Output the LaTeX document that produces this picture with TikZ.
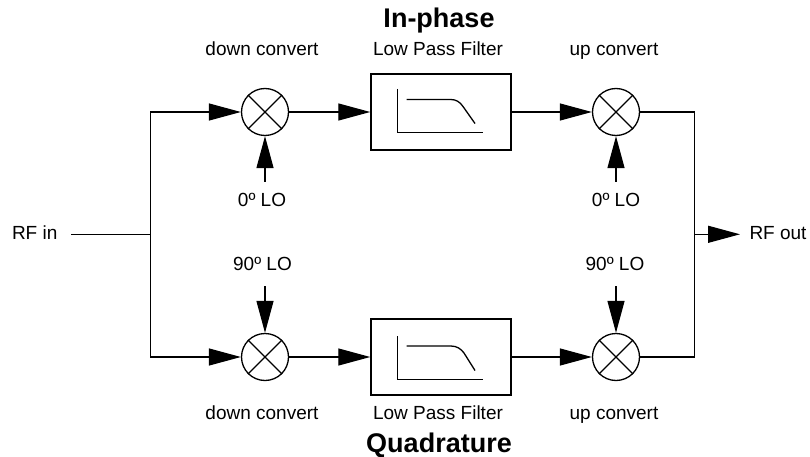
\documentclass[tikz,border=0pt]{standalone}
\usepackage{fontspec}
\setmainfont{Liberation Sans}
\usetikzlibrary{arrows.meta}
\tikzset{
  wire/.style={line width=1.3pt,draw=black},
  arr/.style={wire,-{Triangle[length=32pt,width=17pt]}},
  mixer/.style={circle,draw=black,line width=1.3pt,minimum size=47pt,inner sep=0pt},
  lpf/.style={rectangle,draw=black,line width=1.5pt,minimum width=140pt,minimum height=76pt,inner sep=0pt},
  lab/.style={font=\fontsize{19}{21}\selectfont,inner sep=0pt,anchor=base},
  ttl/.style={font=\fontsize{27}{29}\selectfont\bfseries,inner sep=0pt,anchor=base}
}
\newcommand{\crossin}[1]{\draw[wire] (#1.45)--(#1.225) (#1.135)--(#1.315);}
\begin{document}
\begin{tikzpicture}[x=1pt,y=-1pt]
\useasboundingbox (0,0) rectangle (810,457);
% nodes
\node[mixer] (m1) at (265,112) {};
\node[mixer] (m2) at (616,112) {};
\node[mixer] (m3) at (265,357) {};
\node[mixer] (m4) at (616,357) {};
\node[lpf] (f1) at (441,112) {};
\node[lpf] (f2) at (441,357) {};
\crossin{m1}\crossin{m2}\crossin{m3}\crossin{m4}
% filter glyphs
\draw[wire] (397.5,89)--(397.5,132.5)--(483,132.5);
\draw[wire] (406.5,99.5)--(451,99.5) .. controls (456,99.5) and (460,102) .. (463,106.5) -- (475,123.5);
\draw[wire] (397.5,336)--(397.5,379.5)--(483,379.5);
\draw[wire] (406.5,346)--(451,346) .. controls (457,346) and (461,349) .. (464,353) -- (475,370.5);
% texts
\node[ttl] (t1) at (439,27.3) {In-phase};
\node[ttl] (t2) at (439,452.7) {Quadrature};
\node[lab] (a1) at (262,56) {down convert};
\node[lab] (a2) at (438,56) {Low Pass Filter};
\node[lab] (a3) at (614,56) {up convert};
\node[lab] (b1) at (262,419.3) {down convert};
\node[lab] (b2) at (438,419.3) {Low Pass Filter};
\node[lab] (b3) at (614,419.3) {up convert};
\node[lab] (rfi) at (34.7,239) {RF in};
\node[lab,anchor=base west] (rfo) at (749.3,239) {RF out};
\node[lab] (lo1) at (262,206.7) {0º LO};
\node[lab] (lo2) at (616,206.7) {0º LO};
\node[lab] (lo3) at (262.5,270) {90º LO};
\node[lab] (lo4) at (615,270) {90º LO};
% junctions and free ends
\coordinate (ji) at (150.7,234.7);
\coordinate (jo) at (694.7,234.3);
\coordinate (lo1s) at (265,181.7);
\coordinate (lo2s) at (616,181.7);
\coordinate (lo3s) at (265,286);
\coordinate (lo4s) at (616,286);
\coordinate (rfie) at (71.3,234.7);
\coordinate (rfoe) at (740,234.3);
% connectors
\draw[wire] (rfie)--(ji);
\draw[arr] (ji)|-(m1.west);
\draw[arr] (ji)|-(m3.west);
\draw[arr] (m1.east)--(f1.west);
\draw[arr] (m3.east)--(f2.west);
\draw[arr] (f1.east)--(m2.west);
\draw[arr] (f2.east)--(m4.west);
\draw[wire] (m2.east)-|(jo);
\draw[wire] (m4.east)-|(jo);
\draw[arr] (jo)--(rfoe);
\draw[arr] (lo1s)--(m1.south);
\draw[arr] (lo2s)--(m2.south);
\draw[arr] (lo3s)--(m3.north);
\draw[arr] (lo4s)--(m4.north);
\end{tikzpicture}
\end{document}
